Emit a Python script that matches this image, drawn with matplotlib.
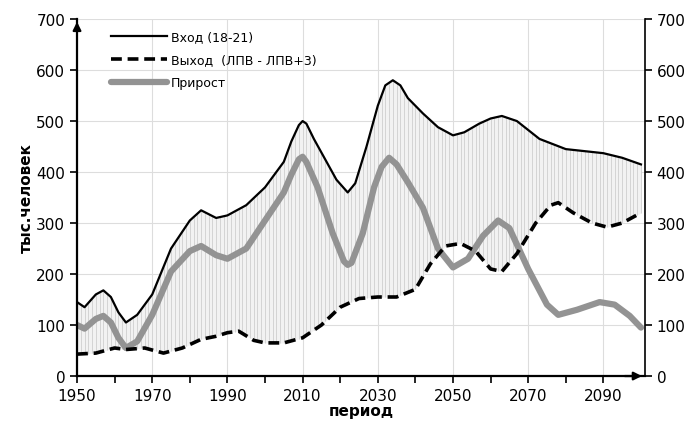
import numpy as np
import matplotlib.pyplot as plt

# Вход (18-21)
in_years = [1950, 1952, 1955, 1957, 1959, 1961, 1963, 1966, 1970, 1975, 1980, 1983,
            1987, 1990, 1995, 2000, 2005, 2007, 2009, 2010, 2011, 2013, 2016, 2019,
            2022, 2024, 2027, 2030, 2032, 2034, 2036, 2038, 2042, 2046, 2050, 2053,
            2057, 2060, 2063, 2067, 2073, 2080, 2090, 2095, 2100]
in_vals = [145, 135, 160, 168, 155, 125, 105, 120, 160, 250, 305, 325,
           310, 315, 335, 370, 420, 460, 492, 500, 495, 465, 425, 385,
           360, 378, 450, 530, 570, 580, 570, 545, 515, 488, 472, 478,
           495, 505, 510, 500, 465, 445, 437, 428, 415]

# Выход (ЛПВ - ЛПВ+3)
out_years = [1950, 1955, 1960, 1963, 1968, 1973, 1978, 1983, 1987, 1990, 1993, 1997,
             2000, 2005, 2010, 2015, 2020, 2025, 2030, 2035, 2040, 2044, 2048, 2052,
             2056, 2060, 2063, 2067, 2072, 2076, 2078, 2082, 2087, 2091, 2095, 2100]
out_vals = [43, 45, 55, 52, 55, 45, 55, 72, 78, 85, 88, 70,
            65, 65, 75, 100, 135, 152, 155, 155, 170, 220, 255, 260,
            245, 210, 205, 240, 300, 335, 340, 320, 300, 292, 300, 320]

# Прирост
gr_years = [1950, 1952, 1955, 1957, 1959, 1961, 1963, 1966, 1970, 1975, 1980, 1983,
            1987, 1990, 1995, 2000, 2005, 2007, 2009, 2010, 2011, 2014, 2018, 2021,
            2022, 2023, 2026, 2029, 2031, 2033, 2035, 2038, 2042, 2046, 2050, 2054,
            2058, 2062, 2065, 2070, 2075, 2078, 2083, 2089, 2093, 2097, 2100]
gr_vals = [100, 93, 112, 118, 105, 75, 55, 68, 120, 205, 245, 255,
           237, 230, 250, 305, 360, 395, 425, 430, 420, 370, 280, 225,
           218, 222, 280, 370, 410, 428, 415, 380, 330, 250, 213, 230,
           275, 305, 290, 210, 140, 120, 130, 145, 140, 118, 95]

fig = plt.figure(figsize=(6.94, 4.27), dpi=100)
ax = fig.add_axes([0.111, 0.117, 0.818, 0.836])

# hatched area between input and output
yrs = np.arange(1950, 2101)
top = np.interp(yrs, in_years, in_vals)
bot = np.interp(yrs, out_years, out_vals)
ax.fill_between(yrs, bot, top, color='#f2f2f2', lw=0, zorder=1)
ax.vlines(yrs, bot, top, color='#cfcfcf', lw=0.6, zorder=1)

ax.plot(in_years, in_vals, color='black', lw=1.6, label='Вход (18-21)', zorder=3,
        solid_joinstyle='round')
ax.plot(out_years, out_vals, color='black', lw=2.6, ls=(0, (3, 1.6)),
        label='Выход  (ЛПВ - ЛПВ+3)', zorder=3, dash_joinstyle='round')
ax.plot(gr_years, gr_vals, color='#939393', lw=4.5, label='Прирост', zorder=2,
        solid_capstyle='round', solid_joinstyle='round')

ax.set_xlim(1950, 2101)
ax.set_ylim(0, 700)
ax.set_yticks(range(0, 701, 100))
ax.set_xticks(range(1950, 2100, 20))
ax.set_xticks(range(1960, 2100, 20), minor=True)
ax.grid(True, which='major', color='#dddddd', lw=0.8, zorder=0)
ax.set_axisbelow(True)
ax.tick_params(labelsize=11, direction='out', length=5, width=1.2)
ax.tick_params(which='minor', direction='out', length=5, width=1.2)
for s in ['top', 'right']:
    ax.spines[s].set_visible(False)
ax.spines['left'].set_linewidth(1.6)
ax.spines['bottom'].set_linewidth(1.6)
ax.annotate('', xy=(0, 1.0), xytext=(0, 0.96), xycoords='axes fraction',
            arrowprops=dict(arrowstyle='-|>', color='black', lw=1.6, mutation_scale=12))
ax.annotate('', xy=(1.0, 0), xytext=(0.96, 0), xycoords='axes fraction',
            arrowprops=dict(arrowstyle='-|>', color='black', lw=1.6, mutation_scale=12))

ax2 = ax.twinx()
ax2.set_ylim(0, 700)
ax2.set_yticks(range(0, 701, 100))
ax2.tick_params(labelsize=11, direction='out', length=5, width=1.2)
for s in ['top', 'left', 'bottom']:
    ax2.spines[s].set_visible(False)
ax2.spines['right'].set_linewidth(1.2)

ax.set_ylabel('тыс.человек', fontsize=11, fontweight='bold', labelpad=2)
ax.set_xlabel('период', fontsize=11, fontweight='bold', labelpad=0)

ax.legend(loc='upper left', bbox_to_anchor=(0.04, 1.0), frameon=False, fontsize=9,
          handlelength=4.5, handletextpad=0.3, labelspacing=0.8)

fig.savefig('out.png', dpi=100)
